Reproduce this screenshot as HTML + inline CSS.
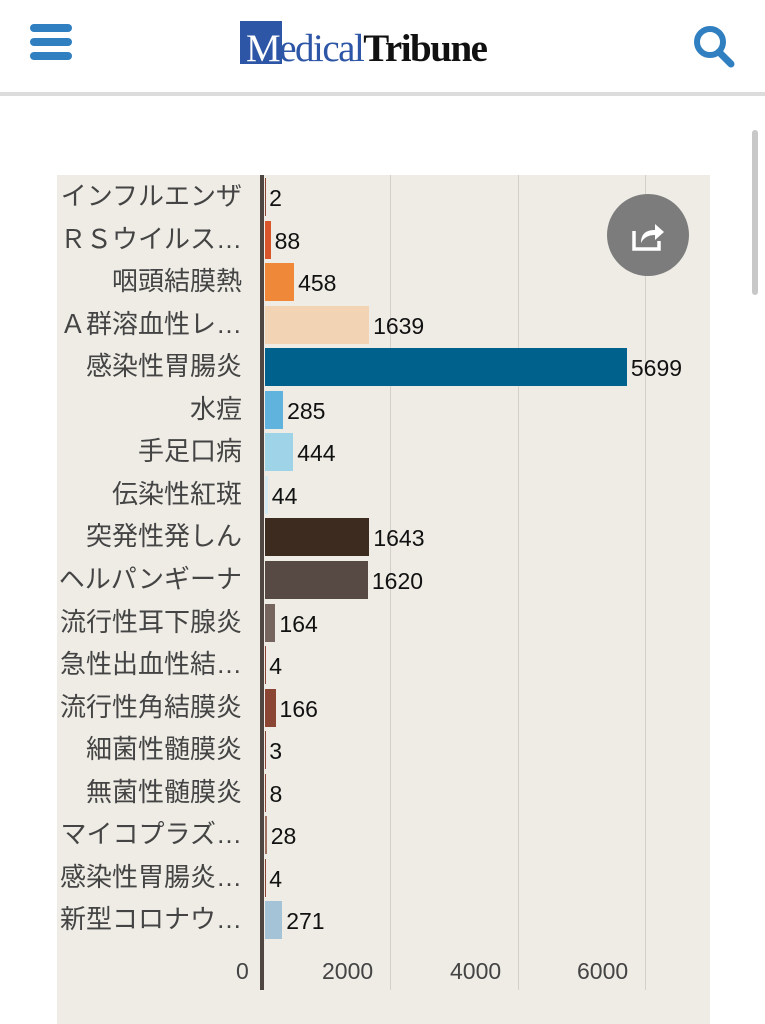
<!DOCTYPE html>
<html><head><meta charset="utf-8"><style>
body{margin:0;width:765px;height:1024px;background:#fff;position:relative;overflow:hidden;font-family:"Liberation Sans","Noto Sans CJK JP",sans-serif}
.a{position:absolute}
.lbl{position:absolute;right:523px;font-size:26px;color:#444;white-space:nowrap;line-height:30px}
.bar{position:absolute;left:265px;height:38px}
.val{position:absolute;font-size:23px;color:#111;line-height:30px}
.grid{position:absolute;top:175px;height:815px;width:1px;background:#d2d0c8}
.tick{position:absolute;top:958px;font-size:23px;color:#444}
</style></head><body>
<div class="a" style="left:30px;top:24px;width:42px;height:8px;background:#2f7fc1;border-radius:4px"></div>
<div class="a" style="left:30px;top:38px;width:42px;height:8px;background:#2f7fc1;border-radius:4px"></div>
<div class="a" style="left:30px;top:52px;width:42px;height:8px;background:#2f7fc1;border-radius:4px"></div>
<div class="a" style="left:240px;top:21px;width:42px;height:43px;background:#2e56a6"></div>
<div class="a" style="left:246px;top:26px;font-family:'Liberation Serif',serif;font-size:39px;letter-spacing:-1.5px;white-space:nowrap"><span style="color:#fff">M</span><span style="color:#2e56a6">edical</span><span style="color:#111;font-weight:bold">Tribune</span></div>
<svg class="a" style="left:690px;top:20px" width="50" height="50"><circle cx="20" cy="22" r="13" fill="none" stroke="#2f7fc1" stroke-width="6"/><line x1="29" y1="32" x2="41" y2="44" stroke="#2f7fc1" stroke-width="7" stroke-linecap="round"/></svg>
<div class="a" style="left:0;top:92px;width:765px;height:4px;background:#dcdcdc"></div>
<div class="a" style="left:752px;top:130px;width:6px;height:165px;background:#c8c8c8;border-radius:3px"></div>
<div class="a" style="left:57px;top:175px;width:653px;height:849px;background:#eeece5"></div>
<div class="grid" style="left:390px"></div>
<div class="grid" style="left:518px"></div>
<div class="grid" style="left:645px"></div>
<div class="a" style="left:260px;top:175px;width:4px;height:815px;background:#4f4642"></div>
<div class="tick" style="left:236px">0</div>
<div class="tick" style="left:322px">2000</div>
<div class="tick" style="left:450px">4000</div>
<div class="tick" style="left:577px">6000</div>
<div class="a" style="left:607px;top:194px;width:82px;height:82px;border-radius:50%;background:#7c7c7c"></div>
<svg class="a" style="left:631px;top:219px" width="36" height="34"><path d="M3 12 V30 H28 V22" fill="none" stroke="#fff" stroke-width="3.5"/><path d="M10 24 C10 14 16 11 24 11 V5 L33 13 L24 21 V16 C18 16 13 18 10 24Z" fill="#fff"/></svg>
<div id="rows"></div>
<script>
var d=[["インフルエンザ",2,"#8b4535"],["ＲＳウイルス…",88,"#d9552b"],["咽頭結膜熱",458,"#f0883a"],["Ａ群溶血性レ…",1639,"#f2d4b4"],["感染性胃腸炎",5699,"#00628c"],["水痘",285,"#5fb3dd"],["手足口病",444,"#9fd4e8"],["伝染性紅斑",44,"#d4eaf2"],["突発性発しん",1643,"#3d2b20"],["ヘルパンギーナ",1620,"#574a44"],["流行性耳下腺炎",164,"#75655e"],["急性出血性結…",4,"#8b4535"],["流行性角結膜炎",166,"#8b4535"],["細菌性髄膜炎",3,"#8b4535"],["無菌性髄膜炎",8,"#8b4535"],["マイコプラズ…",28,"#a07060"],["感染性胃腸炎…",4,"#8b4535"],["新型コロナウ…",271,"#a5c3d6"]];
var h="";
d.forEach(function(r,i){var c=197+i*42.55;var w=r[1]/2000*127;
h+='<div class="lbl" style="top:'+(c-16)+'px">'+r[0]+'</div>';
h+='<div class="bar" style="top:'+(c-19)+'px;width:'+w+'px;background:'+r[2]+'"></div>';
h+='<div class="val" style="top:'+(c-14)+'px;left:'+(265+w+4)+'px">'+r[1]+'</div>';});
document.getElementById("rows").innerHTML=h;
</script>
</body></html>
